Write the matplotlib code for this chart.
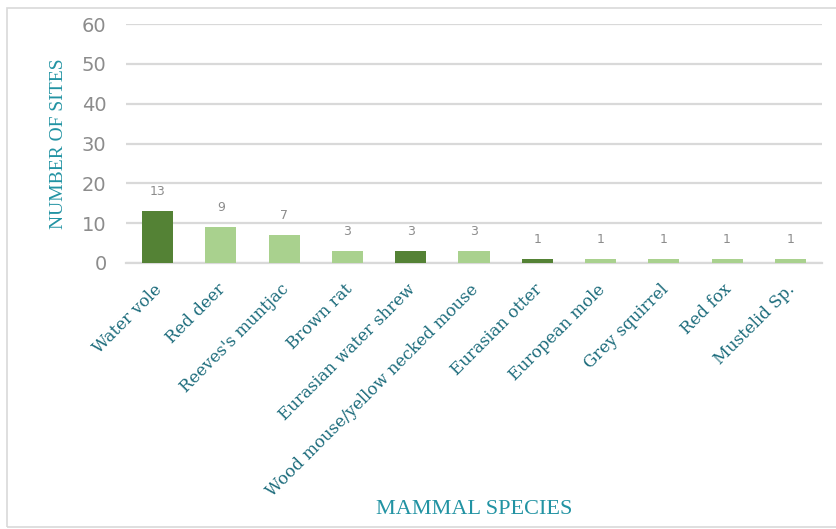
from matplotlib import pyplot as plt
from matplotlib.patches import Rectangle
from matplotlib.transforms import ScaledTranslation

# Mammal records per species
species = ['Water vole', 'Red deer', "Reeves's muntjac", 'Brown rat',
           'Eurasian water shrew', 'Wood mouse/yellow necked mouse',
           'Eurasian otter', 'European mole', 'Grey squirrel', 'Red fox',
           'Mustelid Sp.']
sites = [13, 9, 7, 3, 3, 3, 1, 1, 1, 1, 1]
protected = [True, False, False, False, True, False, True, False, False,
             False, False]
y_ticks = [0, 10, 20, 30, 40, 50, 60]

dark_green = '#548235'
light_green = '#a9d18e'
teal_dark = '#1d6c7c'
teal = '#2293a3'

fig = plt.figure(figsize=(8.37, 5.29), dpi=100)
ax = fig.add_axes([126 / 837, 1 - 263 / 529, 696 / 837, 239 / 529])

colors = [dark_green if p else light_green for p in protected]
x = range(len(species))
bars = ax.bar(x, sites, width=0.49, color=colors, zorder=3)

for rect, val in zip(bars, sites):
    ax.text(rect.get_x() + rect.get_width() / 2, val + 4.9, str(val),
            ha='center', va='center', fontsize=9, color='#8c8c8c')

ax.set_ylim(0, 60)
ax.set_xlim(-0.5, len(species) - 0.5)
ax.set_yticks(y_ticks)
ax.yaxis.grid(True, color='#d9d9d9', linewidth=1.6, zorder=0)
ax.tick_params(axis='y', length=0, labelsize=14, labelcolor='#8c8c8c',
               pad=14)
ax.tick_params(axis='x', length=0, pad=13)
for side in ['top', 'right', 'left']:
    ax.spines[side].set_visible(False)
ax.spines['bottom'].set_color('#d9d9d9')
ax.spines['bottom'].set_linewidth(1.6)

ax.set_xticks(list(x))
ax.set_xticklabels(species, rotation=45, ha='right', rotation_mode='anchor',
                   fontsize=12, color=teal_dark, family='DejaVu Serif')
shift = ScaledTranslation(-4 / 100, 0, fig.dpi_scale_trans)
for lbl in ax.get_xticklabels():
    lbl.set_transform(lbl.get_transform() + shift)

ax.set_ylabel('NUMBER OF SITES', fontsize=14, color=teal,
              family='Liberation Serif')
ax.yaxis.set_label_coords(-59 / 696, 0.5)
fig.text(474 / 837, 1 - 510 / 529, 'MAMMAL SPECIES', ha='center',
         va='center', fontsize=16, color=teal, family='Liberation Serif')

# thin frame round the chart area
fig.patches.append(Rectangle((7 / 837, 2 / 529), 1.0, 1 - 10 / 529,
                             transform=fig.transFigure, fill=False,
                             edgecolor='#d9d9d9', linewidth=1.2))

plt.savefig('out.png', dpi=100)
